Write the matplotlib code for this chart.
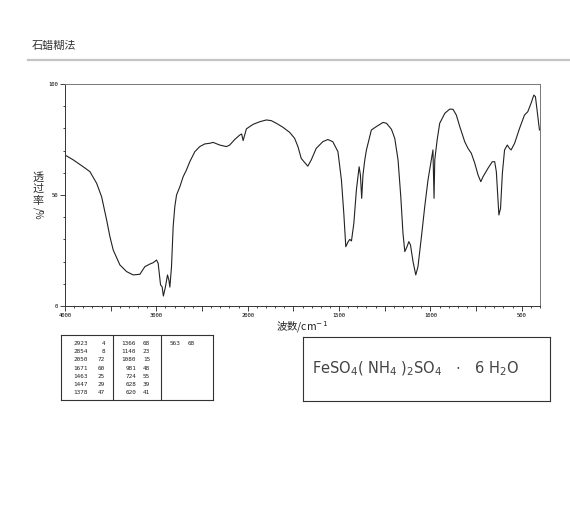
import numpy as np
import matplotlib.pyplot as plt
from matplotlib.ticker import FixedLocator, FixedFormatter

plt.rcParams['font.family'] = ['Noto Sans CJK SC', 'DejaVu Sans']

# spectrum: wavenumber (cm-1) and transmittance (%)
wavenumber = [4000, 3909, 3800, 3727, 3654, 3599, 3544, 3508, 3472, 3399,
              3326, 3254, 3180, 3126, 3071, 3035, 2998, 2980, 2954, 2937,
              2923, 2900, 2878, 2863, 2852, 2834, 2816, 2798, 2779, 2743,
              2707, 2670, 2634, 2579, 2525, 2470, 2415, 2379, 2306, 2233,
              2197, 2142, 2087, 2066, 2050, 2014, 1989, 1971, 1934, 1898,
              1871, 1843, 1807, 1770, 1743, 1725, 1707, 1692, 1671, 1652,
              1625, 1589, 1561, 1534, 1506, 1487, 1474, 1463, 1450, 1441,
              1432, 1419, 1405, 1390, 1383, 1376, 1369, 1359, 1350, 1323,
              1296, 1259, 1240, 1213, 1195, 1177, 1162, 1150, 1140, 1128,
              1118, 1109, 1095, 1080, 1068, 1049, 1031, 1013, 995, 986,
              982, 980, 976, 963, 949, 921, 894, 876, 858, 839,
              812, 794, 776, 757, 739, 724, 712, 685, 661, 648,
              639, 630, 625, 616, 606, 594, 579, 567, 558, 539,
              512, 485, 467, 449, 434, 425, 416, 403]
transmittance = [68.0, 65.8, 62.7, 60.5, 55.3, 49.2, 38.7, 31.2, 25.2, 18.5,
                 15.5, 14.0, 14.3, 17.7, 18.9, 19.5, 20.7, 19.2, 9.5, 8.7,
                 4.5, 8.7, 14.0, 11.7, 8.5, 17.7, 35.7, 44.7, 50.0, 53.7,
                 58.2, 61.3, 65.0, 69.5, 71.8, 73.0, 73.3, 73.7, 72.5, 71.8,
                 72.5, 75.0, 77.0, 77.5, 74.5, 79.8, 80.8, 81.8, 83.0, 83.8,
                 83.5, 82.3, 80.5, 78.2, 75.5, 71.8, 66.5, 65.0, 63.0, 65.8,
                 71.0, 74.0, 75.0, 74.0, 69.5, 56.8, 41.8, 26.7, 29.0, 30.0,
                 29.3, 37.2, 52.3, 62.7, 59.0, 48.5, 59.0, 65.8, 70.3, 79.3,
                 80.8, 82.7, 82.3, 79.6, 75.5, 65.8, 49.2, 32.7, 24.5, 26.7,
                 29.0, 27.5, 20.0, 14.0, 17.7, 31.2, 44.7, 56.8, 65.8, 70.3,
                 56.8, 48.5, 65.8, 74.8, 82.3, 86.8, 88.7, 88.6, 86.0, 80.8,
                 74.0, 71.0, 68.8, 64.3, 59.0, 56.0, 58.2, 62.0, 65.0, 65.0,
                 60.5, 47.7, 41.0, 44.0, 59.8, 70.3, 72.5, 71.0, 70.3, 73.3,
                 80.0, 86.0, 87.5, 91.3, 95.0, 94.3, 88.3, 79.3]

# peak table
peak_wn = [2923, 2854, 2050, 1671, 1463, 1447, 1378,
           1366, 1140, 1080, 981, 724, 628, 620,
           563]
peak_t = [4, 8, 72, 60, 25, 29, 47,
          68, 23, 15, 48, 55, 39, 41,
          68]

formula = r"FeSO$_4$( NH$_4$ )$_2$SO$_4$   $\cdot$   6 H$_2$O"


# two-scale IR abscissa: 4000-2000 compressed, 2000-400 doubled
def fwd(w):
    w = np.asarray(w, dtype=float)
    return np.where(w >= 2000, (w - 2000) / 1000 + 3.2, (w - 400) / 500)


def inv(p):
    p = np.asarray(p, dtype=float)
    return np.where(p >= 3.2, (p - 3.2) * 1000 + 2000, p * 500 + 400)


fig = plt.figure(figsize=(5.7, 5.11), dpi=100)
W, H = 570, 511

fig.text(32 / W, 1 - 46 / H, "石蜡糊法", fontsize=8, color="#333333",
         va="center", ha="left")
fig.add_artist(plt.Line2D([28 / W, 1.0], [1 - 60 / H] * 2, color="#c4c4c4",
                          lw=1.6, transform=fig.transFigure))

ax = fig.add_axes([65 / W, 1 - 306 / H, 475 / W, 222 / H])
ax.set_xscale("function", functions=(fwd, inv))
ax.plot(wavenumber, transmittance, color="#222222", lw=0.8)
ax.set_xlim(4000, 400)
ax.set_ylim(0, 100)

major_x = [4000, 3500, 3000, 2500, 2000, 1750, 1500, 1250, 1000, 750, 500]
major_lbl = ["4000", "", "3000", "", "2000", "", "1500", "", "1000", "", "500"]
minor_x = list(range(4000, 2000, -100)) + list(range(2000, 399, -50))
ax.xaxis.set_major_locator(FixedLocator(major_x))
ax.xaxis.set_major_formatter(FixedFormatter(major_lbl))
ax.xaxis.set_minor_locator(FixedLocator(minor_x))
ax.yaxis.set_major_locator(FixedLocator([0, 50, 100]))
ax.yaxis.set_minor_locator(FixedLocator(list(range(0, 101, 10))))
ax.tick_params(which="major", length=3.5, width=0.6, pad=1.5,
               labelsize=4, color="#222222")
ax.tick_params(which="minor", length=1.5, width=0.6, color="#222222")
for lab in ax.get_xticklabels() + ax.get_yticklabels():
    lab.set_family("DejaVu Sans Mono")
for s in ax.spines.values():
    s.set_linewidth(0.7)
    s.set_color("#333333")
ax.spines["top"].set_color("#777777")
ax.spines["right"].set_color("#777777")

ax.set_xlabel("波数/cm$^{-1}$", fontsize=7.5, labelpad=1, color="#222222")

# vertical y label: upright CJK then rotated "/%"
for ch, yp in zip("透过率", [177, 189, 201]):
    fig.text(38 / W, 1 - yp / H, ch, fontsize=8, ha="center", va="center",
             color="#333333")
fig.text(38 / W, 1 - 213 / H, "/%", fontsize=7, ha="center", va="center",
         rotation=-90, color="#333333")

# peak table box
tab = fig.add_axes([61 / W, 1 - 400 / H, 152 / W, 65 / H])
tab.set_xlim(0, 152)
tab.set_ylim(65, 0)
tab.set_xticks([])
tab.set_yticks([])
for s in tab.spines.values():
    s.set_linewidth(0.8)
    s.set_color("#333333")
tab.axvline(52, color="#333333", lw=0.8)
tab.axvline(100, color="#333333", lw=0.8)
col_wn = [27, 75, 119]
col_t = [44, 89, 134]
for i, (w, t) in enumerate(zip(peak_wn, peak_t)):
    c, r = divmod(i, 7)
    y = 8.5 + r * 8.2
    tab.text(col_wn[c], y, str(w), fontsize=4.3, family="DejaVu Sans Mono",
             ha="right", va="center", color="#222222")
    tab.text(col_t[c], y, str(t), fontsize=4.3, family="DejaVu Sans Mono",
             ha="right", va="center", color="#222222")

# formula box
fb = fig.add_axes([303 / W, 1 - 401 / H, 247 / W, 64 / H])
fb.set_xticks([])
fb.set_yticks([])
for s in fb.spines.values():
    s.set_linewidth(0.8)
    s.set_color("#333333")
fb.text(0.035, 0.5, formula, fontsize=10.5, ha="left", va="center",
        color="#444444", family="DejaVu Sans")

fig.savefig("out.png", dpi=100)
